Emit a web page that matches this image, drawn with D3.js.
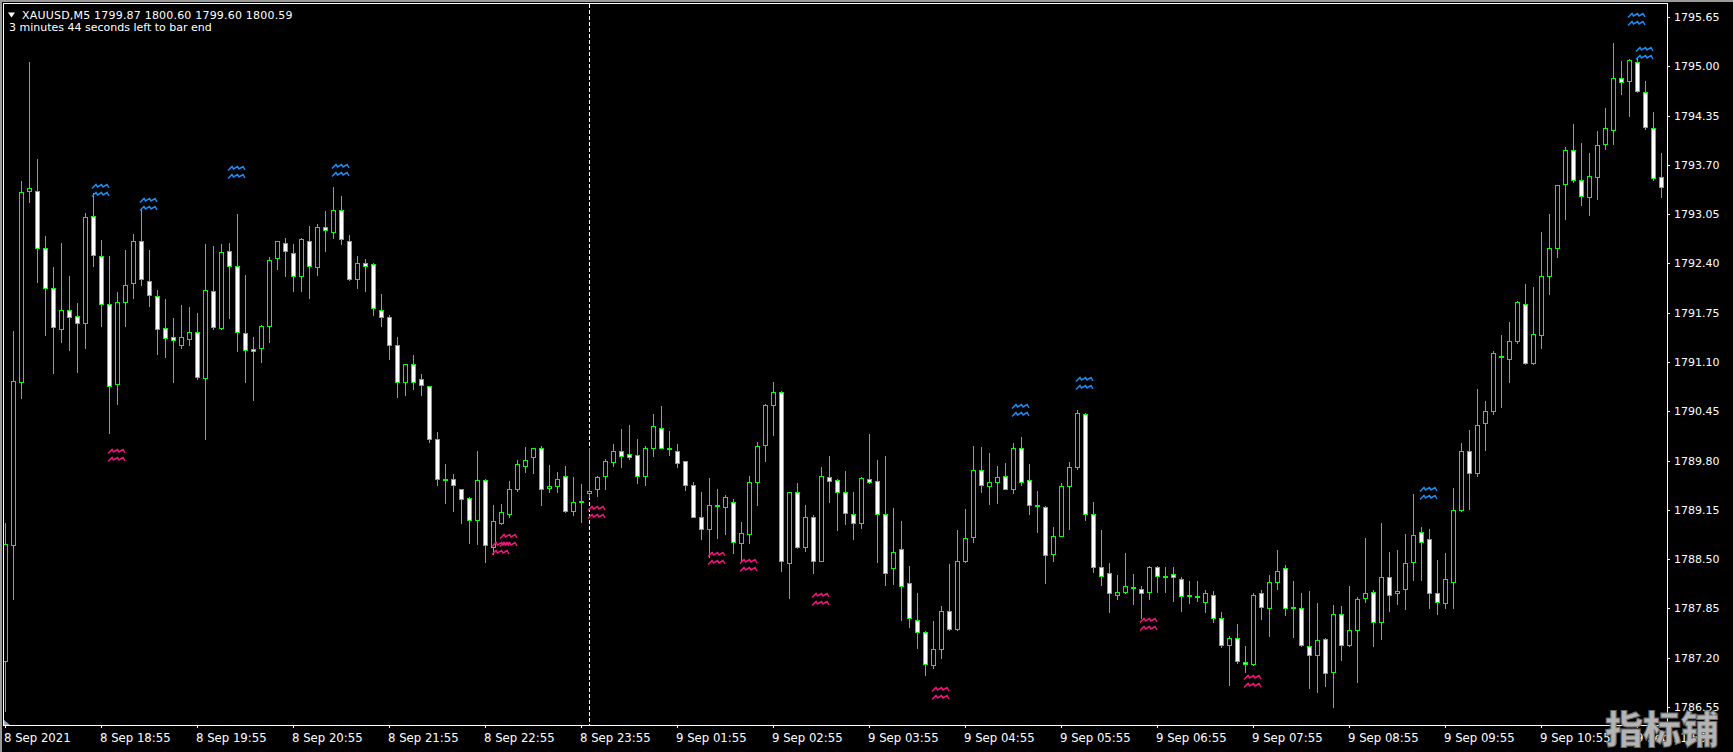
<!DOCTYPE html>
<html><head><meta charset="utf-8">
<script src="https://cdn.jsdelivr.net/npm/d3@7"></script>
<style>html,body{margin:0;padding:0;background:#000;overflow:hidden}</style>
</head><body>
<svg id="chart" width="1733" height="752"></svg>
<script>
// ---- data (XAUUSD M5, bars from 8 Sep 17:55) ----
const opens = [
1787.16,1788.69,1790.84,1793.36,1793.36,1792.61,1792.08,1791.54,1791.78,1791.71,
1791.62,1793.02,1792.50,1791.87,1790.81,1791.89,1792.14,1792.69,1792.17,1791.97,
1791.55,1791.43,1791.33,1791.40,1791.50,1790.89,1792.03,1791.55,1792.56,1792.37,
1791.48,1791.27,1791.29,1791.58,1792.47,1792.67,1792.54,1792.24,1792.70,1792.35,
1792.88,1792.81,1793.11,1792.70,1792.20,1792.40,1792.39,1791.79,1791.70,1791.33,
1790.84,1791.07,1790.88,1790.78,1790.09,1789.56,1789.56,1789.43,1789.30,1789.02,
1789.55,1788.66,1788.98,1789.10,1789.43,1789.73,1789.85,1789.97,1789.44,1789.47,
1789.60,1789.13,1789.26,1789.37,1789.42,1789.59,1789.78,1789.92,1789.89,1789.87,
1789.59,1789.97,1790.23,1789.97,1789.93,1789.79,1789.48,1789.06,1788.90,1789.21,
1789.19,1789.26,1788.71,1788.83,1789.52,1790.00,1790.53,1790.71,1788.45,1789.38,
1788.66,1789.06,1788.48,1789.58,1789.55,1789.39,1789.10,1788.98,1789.56,1789.53,
1789.09,1788.38,1788.64,1788.19,1787.70,1787.54,1787.10,1787.31,1787.82,1787.58,
1788.47,1788.79,1789.68,1789.47,1789.52,1789.60,1789.43,1789.97,1789.54,1789.21,
1789.19,1788.57,1788.81,1789.46,1789.71,1790.41,1789.10,1788.40,1788.32,1788.03,
1788.07,1788.13,1788.11,1788.07,1788.40,1788.28,1788.30,1788.24,1788.03,1788.01,
1787.94,1788.03,1787.72,1787.37,1787.46,1787.15,1787.12,1788.06,1787.86,1788.20,
1788.38,1787.87,1787.85,1787.36,1787.24,1787.45,1787.01,1787.77,1787.37,1787.56,
1787.99,1788.07,1787.67,1788.26,1788.05,1788.10,1788.46,1788.86,1788.76,1788.05,
1787.92,1788.20,1789.15,1789.93,1789.63,1790.29,1790.46,1791.18,1791.14,1791.38,
1791.87,1791.09,1791.45,1792.24,1792.61,1793.45,1793.90,1793.50,1793.28,1793.54,
1793.97,1794.16,1794.85,1794.80,1795.06,1794.66,1794.19,1793.54];
const highs = [
1788.98,1791.51,1793.49,1795.05,1793.78,1792.76,1792.35,1792.67,1792.23,1791.88,
1793.07,1793.33,1792.71,1792.50,1792.02,1792.58,1792.79,1793.11,1792.58,1792.05,
1791.93,1791.68,1791.85,1791.83,1791.75,1792.66,1792.63,1792.65,1792.67,1793.05,
1792.25,1791.43,1791.59,1792.49,1792.70,1792.74,1792.66,1792.73,1792.90,1792.92,
1793.09,1793.41,1793.29,1792.77,1792.50,1792.46,1792.40,1792.00,1791.72,1791.43,
1791.08,1791.19,1790.94,1790.79,1790.18,1789.76,1789.62,1789.43,1789.32,1789.92,
1789.56,1789.21,1789.23,1789.53,1789.81,1789.98,1789.96,1789.99,1789.74,1789.65,
1789.73,1789.58,1789.49,1789.96,1789.59,1789.82,1790.02,1790.21,1790.27,1790.09,
1789.99,1790.41,1790.52,1790.19,1790.02,1789.80,1789.52,1789.38,1789.57,1789.42,
1789.34,1789.29,1788.99,1789.59,1790.04,1790.54,1790.83,1790.72,1789.39,1789.50,
1789.22,1789.08,1789.71,1789.86,1789.56,1789.66,1789.38,1789.58,1790.15,1789.81,
1789.86,1789.18,1789.00,1788.41,1788.05,1787.55,1787.68,1787.88,1788.44,1788.89,
1789.16,1789.99,1789.98,1789.90,1789.73,1789.77,1790.03,1790.11,1789.75,1789.40,
1789.20,1788.93,1789.51,1789.78,1790.47,1790.43,1789.25,1788.88,1788.45,1788.29,
1788.58,1788.31,1788.15,1788.41,1788.41,1788.40,1788.39,1788.27,1788.21,1788.21,
1788.09,1788.08,1787.80,1787.48,1787.64,1787.36,1788.06,1788.09,1788.29,1788.62,
1788.42,1788.21,1788.05,1788.08,1787.92,1787.46,1787.90,1787.88,1788.14,1788.00,
1788.78,1788.09,1788.98,1788.59,1788.62,1788.83,1789.36,1788.92,1788.90,1788.49,
1788.58,1789.44,1790.03,1790.20,1790.74,1790.58,1791.25,1791.46,1791.63,1791.90,
1792.13,1792.09,1792.81,1793.05,1793.44,1793.94,1794.24,1793.99,1793.86,1794.14,
1794.45,1795.31,1795.07,1795.10,1795.12,1794.81,1794.40,1793.86];
const lows = [
1786.50,1787.98,1790.63,1793.21,1792.15,1791.45,1790.96,1791.37,1791.26,1790.97,
1791.29,1792.36,1791.58,1790.17,1790.55,1791.58,1791.95,1792.12,1791.84,1791.21,
1791.17,1790.84,1791.29,1791.33,1790.87,1790.09,1791.54,1791.54,1791.68,1791.25,
1790.83,1790.60,1791.10,1791.37,1792.32,1792.24,1792.04,1792.03,1791.95,1792.25,
1792.57,1792.74,1792.66,1792.18,1792.08,1792.04,1791.72,1791.58,1791.14,1790.64,
1790.66,1790.75,1790.67,1790.05,1789.48,1789.24,1789.14,1788.98,1788.71,1788.70,
1788.46,1788.57,1788.97,1789.06,1789.40,1789.65,1789.64,1789.22,1789.39,1789.39,
1789.12,1789.08,1788.99,1789.32,1789.33,1789.43,1789.73,1789.72,1789.82,1789.51,
1789.48,1789.86,1789.96,1789.88,1789.72,1789.41,1789.05,1788.77,1788.53,1788.78,
1788.83,1788.58,1788.49,1788.71,1789.22,1789.80,1790.14,1788.34,1787.99,1788.65,
1788.61,1788.32,1788.47,1789.26,1788.89,1788.97,1788.77,1788.91,1789.51,1788.46,
1788.16,1788.17,1787.70,1787.61,1787.33,1786.97,1787.07,1787.19,1787.57,1787.57,
1788.46,1788.73,1789.39,1789.23,1789.24,1789.42,1789.37,1789.48,1789.10,1788.86,
1788.19,1788.48,1788.80,1788.90,1789.69,1789.02,1788.33,1788.16,1787.80,1787.98,
1788.05,1787.91,1787.72,1787.98,1788.07,1788.07,1787.95,1787.82,1787.92,1787.95,
1787.80,1787.67,1787.34,1786.84,1787.13,1787.01,1787.11,1787.71,1787.49,1788.11,
1787.76,1787.47,1787.36,1786.80,1786.75,1786.83,1786.55,1787.17,1787.36,1786.88,
1787.94,1787.36,1787.45,1787.82,1787.91,1787.84,1788.23,1788.23,1787.86,1787.78,
1787.86,1787.85,1789.14,1789.16,1789.60,1789.94,1790.42,1790.51,1790.84,1791.35,
1791.08,1791.07,1791.29,1792.00,1792.49,1792.99,1793.48,1793.17,1793.04,1793.25,
1793.91,1793.97,1794.63,1794.35,1794.66,1794.17,1793.50,1793.28];
const closes = [
1788.70,1790.85,1793.34,1793.39,1792.61,1792.08,1791.56,1791.79,1791.69,1791.62,
1793.01,1792.51,1791.86,1790.78,1791.89,1792.12,1792.70,1792.20,1791.98,1791.54,
1791.42,1791.39,1791.43,1791.49,1790.90,1792.05,1791.56,1792.55,1792.36,1791.49,
1791.26,1791.25,1791.58,1792.45,1792.70,1792.56,1792.23,1792.72,1792.36,1792.88,
1792.84,1793.11,1792.72,1792.20,1792.40,1792.37,1791.81,1791.69,1791.32,1790.84,
1791.08,1790.84,1790.80,1790.08,1789.56,1789.55,1789.48,1789.29,1789.02,1789.54,
1788.68,1789.00,1789.12,1789.43,1789.75,1789.81,1789.96,1789.42,1789.46,1789.56,
1789.14,1789.25,1789.27,1789.40,1789.58,1789.80,1789.92,1789.86,1789.85,1789.60,
1789.96,1790.26,1789.97,1789.95,1789.77,1789.48,1789.06,1788.90,1789.22,1789.20,
1789.32,1788.73,1788.85,1789.52,1789.99,1790.53,1790.71,1788.47,1789.38,1788.66,
1789.06,1788.47,1789.60,1789.53,1789.39,1789.11,1788.98,1789.57,1789.52,1789.10,
1788.32,1788.60,1788.15,1787.73,1787.54,1787.12,1787.32,1787.81,1787.58,1788.48,
1788.78,1789.68,1789.48,1789.52,1789.58,1789.43,1789.97,1789.52,1789.21,1789.20,
1788.56,1788.81,1789.47,1789.72,1790.43,1789.10,1788.40,1788.28,1788.05,1788.07,
1788.15,1788.12,1788.06,1788.40,1788.28,1788.27,1788.26,1788.01,1788.01,1788.00,
1788.06,1787.72,1787.37,1787.46,1787.16,1787.12,1788.03,1787.87,1788.20,1788.34,
1787.86,1787.85,1787.37,1787.23,1787.44,1787.00,1787.77,1787.37,1787.56,1787.98,
1788.06,1787.67,1788.27,1788.03,1788.08,1788.45,1788.82,1788.73,1788.06,1787.94,
1788.24,1789.15,1789.93,1789.64,1790.27,1790.46,1791.22,1791.17,1791.38,1791.89,
1791.09,1791.47,1792.23,1792.61,1793.43,1793.90,1793.50,1793.29,1793.55,1793.96,
1794.18,1794.85,1794.79,1795.08,1794.67,1794.20,1793.53,1793.41];

const timeLabels = ["8 Sep 2021","8 Sep 18:55","8 Sep 19:55","8 Sep 20:55","8 Sep 21:55","8 Sep 22:55",
  "8 Sep 23:55","9 Sep 01:55","9 Sep 02:55","9 Sep 03:55","9 Sep 04:55","9 Sep 05:55","9 Sep 06:55",
  "9 Sep 07:55","9 Sep 08:55","9 Sep 09:55","9 Sep 10:55","9 Sep 11:55"];
const timeLabelBars = [0,12,24,36,48,60,72,84,96,108,120,132,144,156,168,180,192,204];
const priceTicks = [1786.55,1787.20,1787.85,1788.50,1789.15,1789.80,1790.45,1791.10,1791.75,
  1792.40,1793.05,1793.70,1794.35,1795.00,1795.65];

const upMarkBars = [11,17,28,41,126,134,177,203,204];
const upMarkPrices = [1793.45,1793.26,1793.69,1793.71,1790.55,1790.90,1789.45,1795.70,1795.26];
const downMarkBars = [13,61,62,73,88,92,101,116,142,155];
const downMarkPrices = [1789.95,1788.72,1788.83,1789.20,1788.60,1788.50,1788.05,1786.81,1787.73,1786.97];

const separatorBar = 73;
const headerLine1 = "XAUUSD,M5 1799.87 1800.60 1799.60 1800.59";
const headerLine2 = "3 minutes 44 seconds left to bar end";
const watermark = "指标铺";

// ---- layout ----
const W = 1733, H = 752;
const plot = {left: 4, top: 4, right: 1667, bottom: 725};
const GREEN = "#00ff00";

const svg = d3.select("#chart");
svg.append("rect").attr("width", W).attr("height", H).attr("fill", "#000");

const x = d3.scaleLinear().domain([0, 207]).range([5, 5 + 8 * 207]);
const y = d3.scaleLinear().domain([1786.55, 1795.65]).rangeRound([707, 17]);

// window border
svg.append("rect").attr("x", 0).attr("y", 0).attr("width", W).attr("height", 2).attr("fill", "#9a9a9a");
svg.append("rect").attr("x", 0).attr("y", 0).attr("width", 2).attr("height", H).attr("fill", "#9a9a9a");

// frame
svg.append("path")
  .attr("d", `M3.5,${plot.bottom + 0.5}V3.5H${plot.right + 0.5}V${plot.bottom + 0.5}Z`)
  .attr("fill", "none").attr("stroke", "#fff").attr("stroke-width", 1)
  .attr("shape-rendering", "crispEdges");

svg.append("defs").append("clipPath").attr("id", "plotclip")
  .append("rect").attr("x", plot.left).attr("y", plot.top)
  .attr("width", plot.right - plot.left).attr("height", plot.bottom - plot.top);

const g = svg.append("g").attr("clip-path", "url(#plotclip)");

// period separator
g.append("line")
  .attr("x1", x(separatorBar) + 0.5).attr("x2", x(separatorBar) + 0.5)
  .attr("y1", plot.top).attr("y2", plot.bottom)
  .attr("stroke", "#fff").attr("stroke-width", 1).attr("stroke-dasharray", "4,2")
  .attr("shape-rendering", "crispEdges");

const bars = d3.range(opens.length).map(i => ({i, o: opens[i], h: highs[i], l: lows[i], c: closes[i]}));

const candles = g.append("g").attr("shape-rendering", "crispEdges");
candles.selectAll("line.wick").data(bars).join("line").attr("class", "wick")
  .attr("x1", d => x(d.i) + 0.5).attr("x2", d => x(d.i) + 0.5)
  .attr("y1", d => y(d.h)).attr("y2", d => y(d.l) + 1)
  .attr("stroke", GREEN).attr("stroke-width", 1);
candles.selectAll("path.body").data(bars).join("path").attr("class", "body")
  .attr("d", d => {
    const cx = x(d.i), t = Math.min(y(d.o), y(d.c)), b = Math.max(y(d.o), y(d.c));
    return `M${cx - 1.5},${t + 0.5}H${cx + 2.5}V${b + 0.5}H${cx - 1.5}Z`;
  })
  .attr("fill", d => d.c < d.o ? "#fff" : "#000")
  .attr("stroke", GREEN).attr("stroke-width", 1);

// wave markers
function markRow(x0, y0) {
  return `M${x0},${y0 + 4.5}L${x0 + 4},${y0 + 0.5}L${x0 + 5.5},${y0 + 3}L${x0 + 9.5},${y0 + 0.5}` +
         `L${x0 + 11},${y0 + 3}L${x0 + 15},${y0 + 0.5}L${x0 + 17},${y0 + 4}`;
}
function drawMarks(idx, prices, color) {
  const data = idx.map((b, k) => ({b, p: prices[k]}));
  g.append("g").selectAll("path").data(data).join("path")
    .attr("d", d => { const x0 = x(d.b) - 1, y0 = y(d.p); return markRow(x0, y0) + markRow(x0, y0 + 8); })
    .attr("fill", "none").attr("stroke", color).attr("stroke-width", 1.5)
    .attr("stroke-linejoin", "miter");
}
drawMarks(upMarkBars, upMarkPrices, "#1e8cf0");
drawMarks(downMarkBars, downMarkPrices, "#f0147c");

// price axis
const yAxis = d3.axisRight(y).tickValues(priceTicks).tickSize(3).tickPadding(4)
  .tickFormat(d3.format(".2f"));
const ya = svg.append("g").attr("transform", `translate(${plot.right},0)`).call(yAxis);
ya.select(".domain").remove();
ya.selectAll("line").attr("stroke", "#fff").attr("shape-rendering", "crispEdges");
ya.selectAll("text").attr("fill", "#fff").attr("font-family", "DejaVu Sans").attr("font-size", 11)
  .attr("dy", "0.36em");

// time axis
const xAxis = d3.axisBottom(x).tickValues(timeLabelBars).tickSize(3).tickSizeOuter(0)
  .tickFormat((d, k) => timeLabels[k]);
const xa = svg.append("g").attr("transform", `translate(0,${plot.bottom})`).call(xAxis);
xa.select(".domain").remove();
xa.selectAll("line").attr("stroke", "#fff").attr("shape-rendering", "crispEdges");
xa.selectAll("text").attr("fill", "#fff")
  .attr("font-family", "'Liberation Sans Narrow','DejaVu Sans Condensed',sans-serif")
  .attr("font-size", 13).attr("text-anchor", "start").attr("x", -1.5).attr("y", 16.5).attr("dy", 0);

// small shift marker bottom-left
svg.append("path").attr("d", "M4,720L4,725L10,725Z").attr("fill", "#9aa4b8");

// header
svg.append("path").attr("d", "M8,12.5H15L11.5,17.5Z").attr("fill", "#fff");
svg.append("text").attr("x", 22).attr("y", 18.5).attr("fill", "#fff")
  .attr("font-family", "DejaVu Sans").attr("font-size", 11).attr("letter-spacing", 0.2)
  .text(headerLine1);
svg.append("text").attr("x", 9).attr("y", 31).attr("fill", "#fff")
  .attr("font-family", "DejaVu Sans").attr("font-size", 11).text(headerLine2);

// watermark
svg.append("text").attr("x", 1605).attr("y", 743)
  .attr("font-family", "'Noto Sans CJK SC'").attr("font-weight", 900).attr("font-size", 38)
  .attr("fill", "#b4b4b4").attr("stroke", "#6a6a6a").attr("stroke-width", 1)
  .text(watermark);
</script>
</body></html>
